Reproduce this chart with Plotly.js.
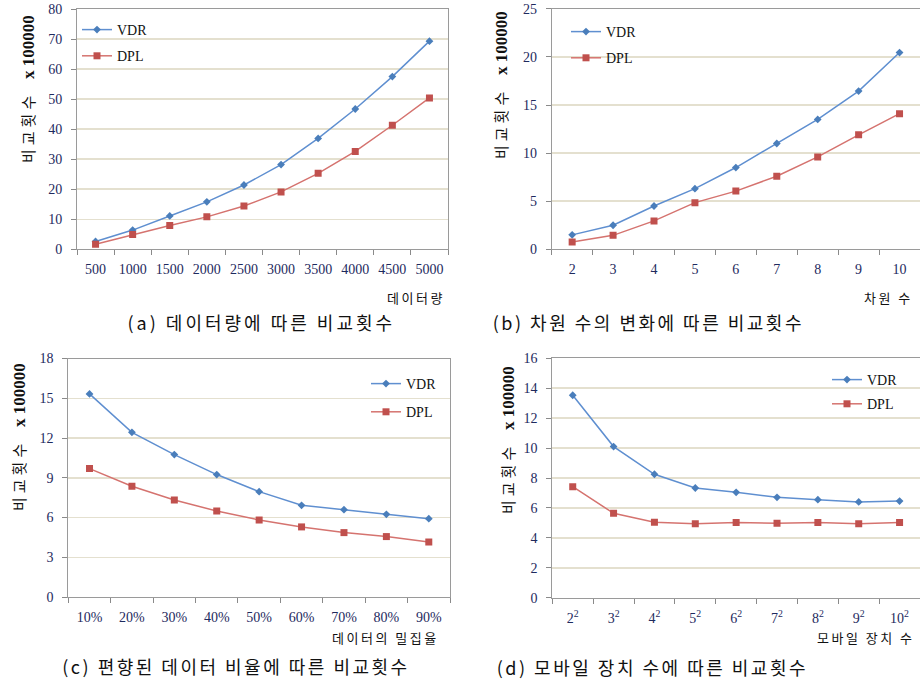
<!DOCTYPE html>
<html>
<head>
<meta charset="utf-8">
<script src="https://cdn.plot.ly/plotly-3.0.1.min.js"></script>
<style>
html,body{margin:0;padding:0;background:#fff;}
#chart{width:920px;height:688px;}
.annotation[data-index="8"] text { letter-spacing: 3px; }
.annotation[data-index="9"] text, .annotation[data-index="10"] text,
.annotation[data-index="11"] text { letter-spacing: 2.5px; }
.annotation[data-index="4"] text, .annotation[data-index="5"] text,
.annotation[data-index="6"] text, .annotation[data-index="7"] text { letter-spacing: 2.5px; }
</style>
</head>
<body>
<div id="chart"></div>
<script>
// ---- data ----
const catA = ['500','1000','1500','2000','2500','3000','3500','4000','4500','5000'];
const vdrA = [2.6, 6.4, 11.1, 15.8, 21.4, 28.2, 36.9, 46.7, 57.5, 69.3];
const dplA = [1.7, 4.9, 7.9, 10.8, 14.4, 19.1, 25.3, 32.6, 41.3, 50.4];

const catB = ['2','3','4','5','6','7','8','9','10'];
const vdrB = [1.5, 2.5, 4.5, 6.3, 8.5, 11.0, 13.5, 16.45, 20.45];
const dplB = [0.75, 1.45, 2.95, 4.85, 6.05, 7.6, 9.6, 11.9, 14.1];

const catC = ['10%','20%','30%','40%','50%','60%','70%','80%','90%'];
const vdrC = [15.33, 12.43, 10.75, 9.24, 7.95, 6.92, 6.59, 6.24, 5.91];
const dplC = [9.69, 8.36, 7.32, 6.49, 5.81, 5.29, 4.86, 4.56, 4.15];

const catD = ['2<sup>2</sup>','3<sup>2</sup>','4<sup>2</sup>','5<sup>2</sup>','6<sup>2</sup>','7<sup>2</sup>','8<sup>2</sup>','9<sup>2</sup>','10<sup>2</sup>'];
const vdrD = [13.53, 10.1, 8.25, 7.33, 7.04, 6.71, 6.55, 6.4, 6.46];
const dplD = [7.42, 5.64, 5.04, 4.95, 5.02, 4.97, 5.02, 4.95, 5.02];

const seriesNames = ['VDR', 'DPL'];
const yTitle = '<span style="font-family:Noto Sans CJK KR;font-size:15px;letter-spacing:4px">비교횟수</span>   <b>x 100000</b>';
const xTitles = ['데이터량', '차원 수', '데이터의 밀집율', '모바일 장치 수'];
const captions = ['(a) 데이터량에 따른 비교횟수', '(b) 차원 수의 변화에 따른 비교횟수',
                  '(c) 편향된 데이터 비율에 따른 비교횟수', '(d) 모바일 장치 수에 따른 비교횟수'];

// ---- styling ----
const W = 920, H = 688;
const px = v => v / W;
const py = v => 1 - v / H;
const blueLine = '#5f8fd0', blueMark = '#4a7ebb';
const redLine = '#d5736f', redMark = '#c0504d';
const tickColor = '#1e2a5e';
const serif = 'Liberation Serif';
const kr = 'Noto Sans CJK KR';

const panels = [
  {cat: catA, v: vdrA, d: dplA, xa: 'x',  ya: 'y',  lg: 'legend'},
  {cat: catB, v: vdrB, d: dplB, xa: 'x2', ya: 'y2', lg: 'legend2'},
  {cat: catC, v: vdrC, d: dplC, xa: 'x3', ya: 'y3', lg: 'legend3'},
  {cat: catD, v: vdrD, d: dplD, xa: 'x4', ya: 'y4', lg: 'legend4'}
];

const traces = [];
panels.forEach((p, i) => {
  traces.push({
    x: p.cat, y: p.v, name: seriesNames[0], type: 'scatter', mode: 'lines+markers',
    xaxis: p.xa, yaxis: p.ya, legend: p.lg, legendgroup: 'v' + i,
    line: {color: blueLine, width: 1.5},
    marker: {symbol: 'diamond', size: 6, color: blueMark}
  });
  traces.push({
    x: p.cat, y: p.d, name: seriesNames[1], type: 'scatter', mode: 'lines+markers',
    xaxis: p.xa, yaxis: p.ya, legend: p.lg, legendgroup: 'd' + i,
    line: {color: redLine, width: 1.5},
    marker: {symbol: 'square', size: 7, color: redMark}
  });
});

function xAxis(n, dom) {
  return {
    type: 'category', domain: dom, range: [-0.5, n - 0.5],
    tickson: 'boundaries', ticks: 'outside', ticklen: 5, tickcolor: '#8a8a8a',
    showline: true, linecolor: '#9a9a9a', linewidth: 1, mirror: true,
    showgrid: false, zeroline: false, fixedrange: true,
    ticklabelstandoff: 7,
    tickfont: {family: serif, size: 14, color: tickColor}
  };
}
function yAxis(max, dt, dom, anchor) {
  return {
    domain: dom, range: [0, max], dtick: dt, anchor: anchor,
    ticks: 'outside', ticklen: 5, tickcolor: '#8a8a8a',
    showline: true, linecolor: '#9a9a9a', linewidth: 1, mirror: true,
    showgrid: true, gridcolor: '#e4e0cf', gridwidth: 1.5, zeroline: false,
    ticklabelstandoff: 6,
    tickfont: {family: serif, size: 14, color: tickColor}
  };
}
function legend(x, y, gap) {
  return {
    x: px(x), y: py(y), xanchor: 'left', yanchor: 'top',
    bgcolor: 'rgba(0,0,0,0)', borderwidth: 0, tracegroupgap: gap,
    traceorder: 'grouped',
    font: {family: serif, size: 14, color: '#111'}
  };
}

const xa = Object.assign(xAxis(catA.length, [px(77), px(448)]), {anchor: 'y'});
const xb = Object.assign(xAxis(catB.length, [px(551.7), 1]), {anchor: 'y2'});
const xc = Object.assign(xAxis(catC.length, [px(68.3), px(450)]), {anchor: 'y3'});
const xd = Object.assign(xAxis(catD.length, [px(552.3), 1]), {anchor: 'y4'});

const annotations = [];
const yTitlePos = [[27, 89], [500, 85], [18, 437], [507, 440]];
yTitlePos.forEach(p => annotations.push({
  text: yTitle, x: px(p[0]), y: py(p[1]), xref: 'paper', yref: 'paper',
  xanchor: 'center', yanchor: 'middle', textangle: -90, showarrow: false,
  font: {family: serif, size: 17, color: '#111'}
}));
const xTitlePos = [[416, 297], [888, 297], [385, 637], [866, 637]];
xTitlePos.forEach((p, i) => annotations.push({
  text: xTitles[i], x: px(p[0]), y: py(p[1]), xref: 'paper', yref: 'paper',
  xanchor: 'center', yanchor: 'middle', showarrow: false,
  font: {family: kr, size: 13, color: '#111'}
}));
const capPos = [[261, 322], [648, 322], [236, 666], [652, 667]];
capPos.forEach((p, i) => annotations.push({
  text: captions[i], x: px(p[0]), y: py(p[1]), xref: 'paper', yref: 'paper',
  xanchor: 'center', yanchor: 'middle', showarrow: false,
  font: {family: kr, size: 18, color: '#111'}
}));

const layout = {
  width: W, height: H, margin: {l: 0, r: 0, t: 0, b: 0},
  paper_bgcolor: '#fff', plot_bgcolor: '#fff', showlegend: true,
  xaxis: xa, xaxis2: xb, xaxis3: xc, xaxis4: xd,
  yaxis: yAxis(80, 10, [py(249.3), py(9)], 'x'),
  yaxis2: yAxis(25, 5, [py(249.3), py(8.8)], 'x2'),
  yaxis3: yAxis(18, 3, [py(597), py(358.5)], 'x3'),
  yaxis4: yAxis(16, 2, [py(597.7), py(358.3)], 'x4'),
  legend: legend(77, 14, 5),
  legend2: legend(566, 16, 5),
  legend3: legend(366, 368, 7),
  legend4: legend(827, 364, 3),
  annotations: annotations
};

Plotly.newPlot('chart', traces, layout, {displayModeBar: false, staticPlot: true});
</script>
</body>
</html>
